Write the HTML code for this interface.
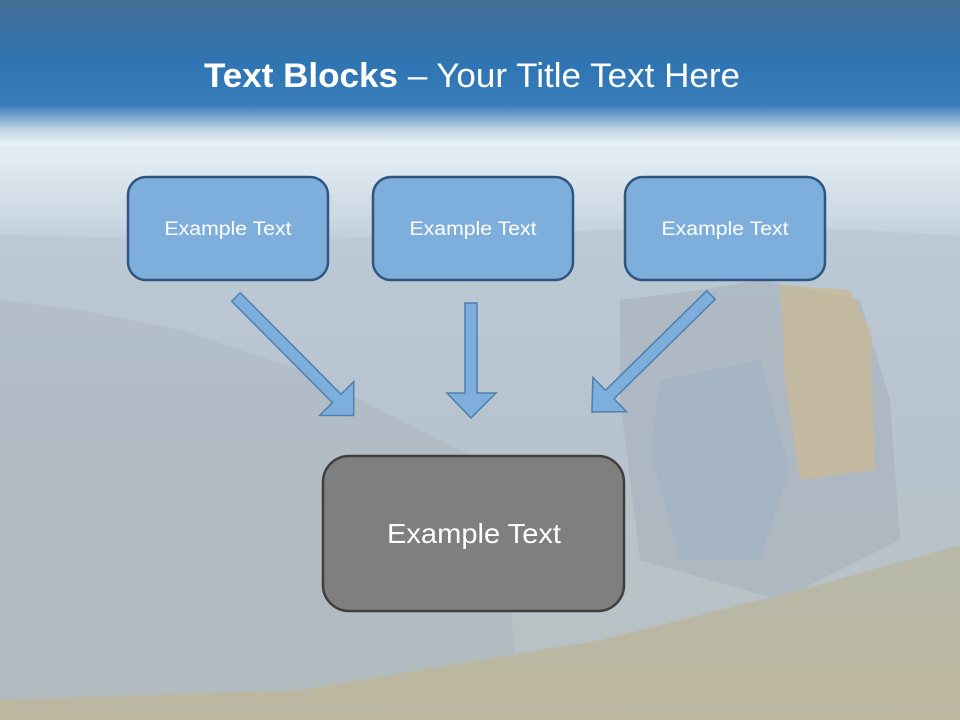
<!DOCTYPE html>
<html><head><meta charset="utf-8"><style>
html,body{margin:0;padding:0}
body{width:960px;height:720px;overflow:hidden;position:relative;font-family:"Liberation Sans",sans-serif}
svg{position:absolute;left:0;top:0}
</style></head><body>
<svg width="960" height="720" viewBox="0 0 960 720">
<defs>
<linearGradient id="sky" x1="0" y1="0" x2="0" y2="1">
<stop offset="0" stop-color="#eef4f8"/><stop offset="0.22" stop-color="#e2ebf2"/>
<stop offset="0.33" stop-color="#c3d0dc"/><stop offset="0.6" stop-color="#b6c1ca"/>
<stop offset="0.8" stop-color="#b9bebb"/><stop offset="1" stop-color="#bcbaa9"/>
</linearGradient>
<linearGradient id="hdr" x1="0" y1="0" x2="0" y2="1">
<stop offset="0" stop-color="#436d94"/><stop offset="0.45" stop-color="#2f75b3"/>
<stop offset="0.72" stop-color="#3a7ebb"/><stop offset="0.9" stop-color="#c6d9e8"/>
<stop offset="1" stop-color="#eef4f8"/>
</linearGradient>
<linearGradient id="grass" x1="0" y1="0" x2="0" y2="1">
<stop offset="0" stop-color="#b7b9aa"/><stop offset="1" stop-color="#bdb79f"/>
</linearGradient>
</defs>
<rect width="960" height="720" fill="url(#sky)"/>
<path d="M0 235 L120 238 L260 242 L400 236 L560 232 L700 226 L860 230 L960 236 L960 720 L0 720Z" fill="#b7c4d0" opacity="0.6"/>
<path d="M0 300 L80 310 L180 330 L300 370 L420 430 L500 470 L520 720 L0 720Z" fill="#aab4bc" opacity="0.45"/>
<path d="M620 300 L700 290 L760 280 L860 300 L890 400 L900 540 L780 600 L640 560 L620 400Z" fill="#aab4be" opacity="0.7"/>
<path d="M780 285 L850 290 L870 330 L875 470 L800 480 L785 380Z" fill="#c8b994" opacity="0.75"/>
<path d="M660 380 L760 360 L790 470 L760 560 L680 560 L650 450Z" fill="#a3b3c4" opacity="0.7"/>
<path d="M0 700 L300 690 L600 640 L800 590 L960 545 L960 720 L0 720Z" fill="url(#grass)"/>
<rect width="960" height="146" fill="url(#hdr)"/>
<text x="472" y="87" text-anchor="middle" fill="#fff" font-family="Liberation Sans, sans-serif" font-size="34" textLength="536" lengthAdjust="spacingAndGlyphs"><tspan font-weight="bold">Text Blocks</tspan> – Your Title Text Here</text>
<g stroke="#2e5680" stroke-width="2.5" fill="#7eaedb">
<rect x="128" y="177" width="200" height="103" rx="18"/>
<rect x="373" y="177" width="200" height="103" rx="18"/>
<rect x="625" y="177" width="200" height="103" rx="18"/>
</g>
<rect x="323" y="456" width="301" height="155" rx="26" fill="#7f7f7f" stroke="#3f3f3f" stroke-width="2.5"/>
<g fill="#fff" font-family="Liberation Sans, sans-serif" font-size="19" text-anchor="middle">
<text x="228" y="235" textLength="127" lengthAdjust="spacingAndGlyphs">Example Text</text>
<text x="473" y="235" textLength="127" lengthAdjust="spacingAndGlyphs">Example Text</text>
<text x="725" y="235" textLength="127" lengthAdjust="spacingAndGlyphs">Example Text</text>
<text x="474" y="543" font-size="28" textLength="174" lengthAdjust="spacingAndGlyphs">Example Text</text>
</g>
<g fill="#7eaedb" stroke="#4f7fae" stroke-width="1.5">
<polygon points="0,-6 143,-6 143,-24 167,0 143,24 143,6 0,6" transform="translate(236,297) rotate(45.2)"/>
<polygon points="0,-6 142,-6 142,-24 167,0 142,24 142,6 0,6" transform="translate(711,295) rotate(135.5)"/>
<polygon points="465,303 477,303 477,393 496,393 471,418 447,393 465,393"/>
</g>
</svg>
</body></html>
